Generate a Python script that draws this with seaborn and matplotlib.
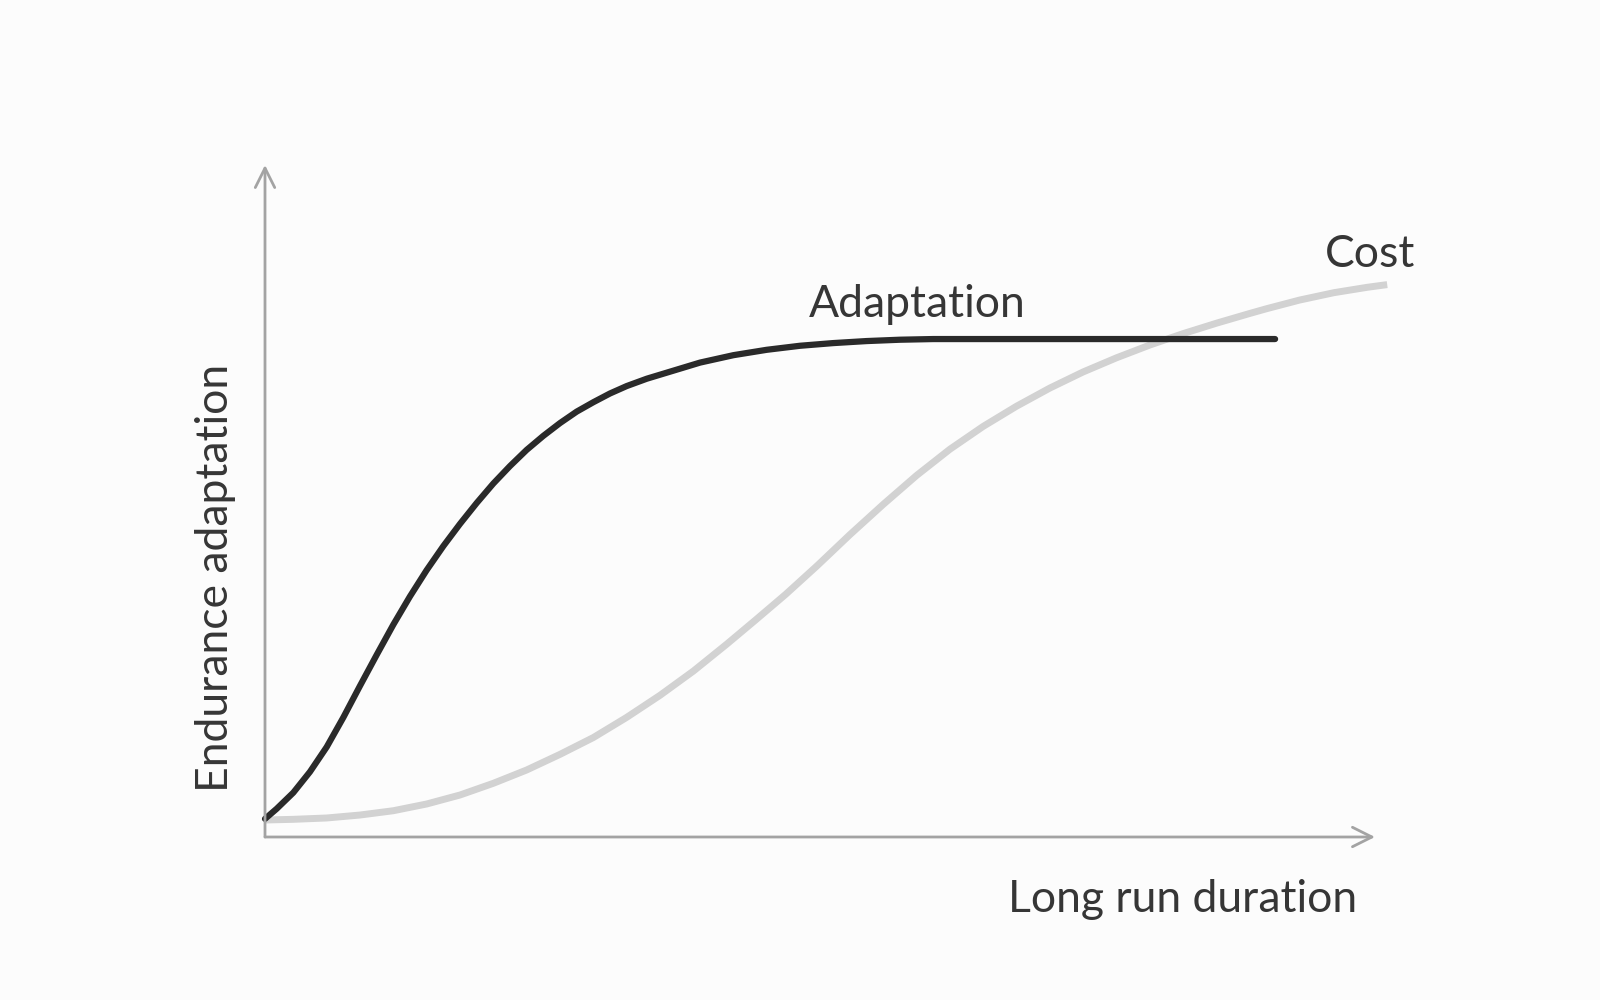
"""
Adaptation vs cost of long run duration (schematic).
"""

import pandas as pd
import seaborn as sns
import matplotlib.pyplot as plt

# values (x: duration, y: adaptation, both 0-100)
adapt_x = [0.0, 1.05, 2.55, 4.05, 5.56, 7.06, 8.56, 10.06, 11.56, 13.06,
           14.56, 16.07, 17.57, 19.07, 20.57, 22.07, 23.57, 25.08, 26.58,
           28.08, 29.58, 31.08, 32.58, 34.4, 36.2, 39.2, 42.2, 45.2, 48.2,
           51.2, 54.2, 57.2, 60.2, 91.0]
adapt_y = [2.7, 4.2, 6.6, 9.7, 13.4, 17.8, 22.5, 27.1, 31.6, 35.8,
           39.7, 43.3, 46.6, 49.7, 52.6, 55.2, 57.6, 59.7, 61.6,
           63.3, 64.7, 66.0, 67.1, 68.2, 69.1, 70.6, 71.7, 72.5, 73.1,
           73.5, 73.8, 74.0, 74.1, 74.1]

cost_x = [0.0, 2.55, 5.56, 8.56, 11.56, 14.56, 17.57, 20.57, 23.57, 26.58,
          29.58, 32.58, 35.6, 38.6, 41.6, 44.2, 46.9, 49.7, 52.7, 55.7,
          58.7, 61.7, 64.7, 67.7, 70.7, 73.7, 76.7, 79.7, 82.7, 85.8,
          88.7, 90.2, 93.2, 96.3, 99.3, 101.1]
cost_y = [2.53, 2.63, 2.83, 3.27, 3.91, 4.91, 6.25, 7.99, 9.97, 12.3,
          14.8, 17.8, 21.1, 24.7, 28.7, 32.3, 36.1, 40.3, 45.0, 49.5,
          53.8, 57.7, 61.1, 64.1, 66.8, 69.2, 71.3, 73.2, 74.9, 76.5,
          77.9, 78.6, 79.9, 81.0, 81.8, 82.2]

BG = "#fcfcfc"
AXIS = "#a3a3a3"
TEXT = "#363636"

sns.set_style("white")
plt.rcParams["font.family"] = ["Lato", "DejaVu Sans"]

fig = plt.figure(figsize=(16, 10), dpi=100, facecolor=BG)
ax = fig.add_axes([265 / 1600, 163 / 1000, 1110 / 1600, 672 / 1000])
ax.set_facecolor(BG)

df_adapt = pd.DataFrame({"x": adapt_x, "y": adapt_y})
df_cost = pd.DataFrame({"x": cost_x, "y": cost_y})

# cost curve first so the adaptation curve sits on top
sns.lineplot(data=df_cost, x="x", y="y", ax=ax, sort=False, color="#d2d2d2",
             linewidth=5, solid_capstyle="butt", solid_joinstyle="round")
sns.lineplot(data=df_adapt, x="x", y="y", ax=ax, sort=False, color="#2a2a2a",
             linewidth=4.5, solid_capstyle="round", solid_joinstyle="round")
for line in ax.lines:
    line.set_clip_on(False)

ax.set_xlim(0, 100)
ax.set_ylim(0, 100)
ax.set_xticks([])
ax.set_yticks([])
ax.set_xlabel("")
ax.set_ylabel("")
sns.despine(ax=ax, left=True, bottom=True)

# axis arrows
arrow = dict(arrowstyle="->,head_length=1.0,head_width=0.5", color=AXIS,
             lw=2, mutation_scale=14, shrinkA=0, shrinkB=0)
ax.annotate("", xy=(1, 0), xytext=(0, 0), xycoords="axes fraction",
            arrowprops=arrow, annotation_clip=False)
ax.annotate("", xy=(0, 1), xytext=(0, 0), xycoords="axes fraction",
            arrowprops=arrow, annotation_clip=False)

# labels
fig.text(809 / 1600, 1 - 317 / 1000, "Adaptation", fontsize=32, color=TEXT,
         ha="left", va="baseline")
fig.text(1325 / 1600, 1 - 267 / 1000, "Cost", fontsize=32, color=TEXT,
         ha="left", va="baseline")
fig.text(1008 / 1600, 1 - 912 / 1000, "Long run duration", fontsize=32,
         color=TEXT, ha="left", va="baseline")
fig.text(215 / 1600, 1 - 578 / 1000, "Endurance adaptation", fontsize=32,
         color=TEXT, rotation=90, ha="center", va="center")

fig.savefig("out.png", dpi=100, facecolor=BG)
